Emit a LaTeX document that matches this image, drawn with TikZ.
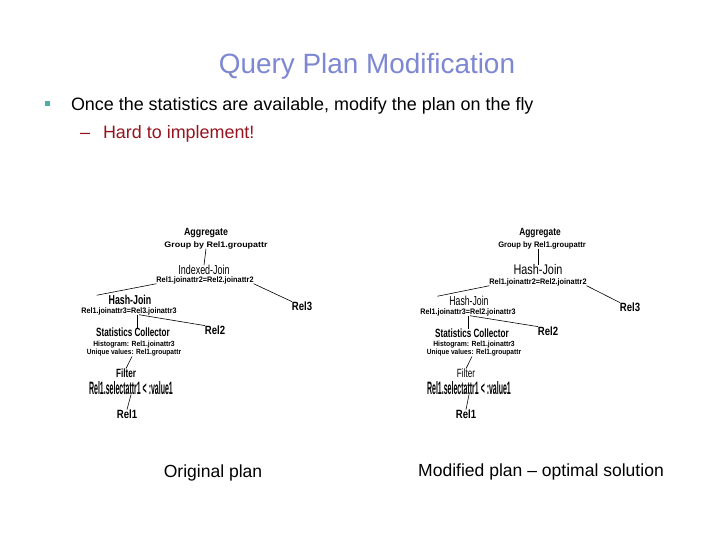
\documentclass[tikz,border=0pt]{standalone}
\usepackage{fontspec}
\setmainfont{Liberation Sans}
\definecolor{titlecol}{RGB}{125,135,210}
\definecolor{bulletcol}{RGB}{80,175,165}
\definecolor{redcol}{RGB}{150,20,30}
\newcommand\sq[2]{\scalebox{#1}[1]{#2}}
\begin{document}
\begin{tikzpicture}[x=1bp,y=-1bp,
  lbl/.style={inner sep=0pt, outer sep=0pt, text=black},
  opb/.style={lbl, font=\fontsize{10.5}{10.5}\selectfont\bfseries},
  sub/.style={lbl, font=\fontsize{8}{8}\selectfont\bfseries},
  stat/.style={lbl, align=center, font=\fontsize{7.5}{7}\selectfont\bfseries},
  rel/.style={lbl, font=\fontsize{12}{12}\selectfont\bfseries},
  mid/.style={lbl, font=\fontsize{12}{12}\selectfont\bfseries},
  cond/.style={lbl, font=\fontsize{18}{18}\selectfont\bfseries},
  edge/.style={draw=black, line width=0.6bp}]
\useasboundingbox (0,0) rectangle (720,540);
\fill[white] (0,0) rectangle (720,540);
% header
\node[lbl, anchor=base, text=titlecol, font=\fontsize{28}{28}\selectfont] (title) at (367,74) {Query Plan Modification};
\node[fill=bulletcol, minimum size=5bp, inner sep=0pt] (bul) at (47,104) {};
\node[lbl, anchor=base west, font=\fontsize{18}{18}\selectfont] (line1) at (71,111) {Once the statistics are available, modify the plan on the fly};
\node[lbl, anchor=base west, text=redcol, font=\fontsize{18}{18}\selectfont] (dash) at (80,139) {--};
\node[lbl, anchor=base west, text=redcol, font=\fontsize{18}{18}\selectfont] (line2) at (103,139) {Hard to implement!};
% ---------- left tree ----------
\node[opb] (la) at (206,233) {\sq{0.85}{Aggregate}};
\node[sub] (las) at (216,245) {\sq{1.12}{Group by Rel1.groupattr}};
\node[lbl, font=\fontsize{13}{13}\selectfont] (lij) at (204,270) {\sq{0.69}{Indexed-Join}};
\node[sub] (lijc) at (205,280) {\sq{0.92}{Rel1.joinattr2=Rel2.joinattr2}};
\node[lbl, font=\fontsize{13}{13}\selectfont\bfseries] (lhj) at (130,300) {\sq{0.68}{Hash-Join}};
\node[sub] (lhjc) at (129,311) {\sq{0.9}{Rel1.joinattr3=Rel3.joinattr3}};
\node[rel] (lr3) at (302,306) {\sq{0.8}{Rel3}};
\node[mid] (lsc) at (133,332) {\sq{0.68}{Statistics Collector}};
\node[stat] (lst) at (134,349) {\sq{0.91}{Histogram: Rel1.joinattr3}\\\sq{0.88}{Unique values: Rel1.groupattr}};
\node[rel] (lr2) at (215,330) {\sq{0.8}{Rel2}};
\node[mid] (lf) at (126,373) {\sq{0.68}{Filter}};
\node[cond] (lfc) at (131,388) {\sq{0.39}{Rel1.selectattr1 < :value1}};
\node[rel] (lr1) at (127,414) {\sq{0.8}{Rel1}};
\draw[edge] (las.south -| la.south) -- (lij.north);
\draw[edge] (lijc.south west) -- ([xshift=-12bp]lhj.north west);
\draw[edge] (lijc.south east) -- (lr3.north west);
\draw[edge] ([xshift=8bp]lhjc.south) -- ([xshift=8bp]lhjc.south |- lsc.north);
\draw[edge] ([xshift=10bp]lhjc.south) -- (lr2.north west);
\draw[edge] ([xshift=-2bp]lst.south) -- (lf.north);
\draw[edge] (lfc.south) -- (lr1.north);
% ---------- right tree ----------
\node[opb] (ra) at (540,233) {\sq{0.8}{Aggregate}};
\node[sub] (ras) at (542,245) {\sq{0.95}{Group by Rel1.groupattr}};
\node[lbl, font=\fontsize{14}{14}\selectfont] (rhj) at (538,270) {\sq{0.78}{Hash-Join}};
\node[sub] (rhjc) at (538,282) {\sq{0.92}{Rel1.joinattr2=Rel2.joinattr2}};
\node[lbl, font=\fontsize{13}{13}\selectfont] (rhj2) at (469,301) {\sq{0.67}{Hash-Join}};
\node[sub] (rhj2c) at (468,312) {\sq{0.9}{Rel1.joinattr3=Rel2.joinattr3}};
\node[rel] (rr3) at (630,307) {\sq{0.8}{Rel3}};
\node[mid] (rsc) at (472,333) {\sq{0.68}{Statistics Collector}};
\node[stat] (rst) at (474,349) {\sq{0.91}{Histogram: Rel1.joinattr3}\\\sq{0.88}{Unique values: Rel1.groupattr}};
\node[rel] (rr2) at (548,331) {\sq{0.8}{Rel2}};
\node[lbl, font=\fontsize{12}{12}\selectfont] (rf) at (466,373) {\sq{0.68}{Filter}};
\node[cond] (rfc) at (469,388) {\sq{0.39}{Rel1.selectattr1 < :value1}};
\node[rel] (rr1) at (466,414) {\sq{0.8}{Rel1}};
\draw[edge] (ras.south -| rhj.north) -- (rhj.north);
\draw[edge] (rhjc.south west) -- ([xshift=-12bp]rhj2.north west);
\draw[edge] (rhjc.south east) -- (rr3.north west);
\draw[edge] (rhj2c.south) -- (rhj2c.south |- rsc.north);
\draw[edge] ([xshift=2bp]rhj2c.south) -- (rr2.north west);
\draw[edge] ([xshift=-2bp]rst.south) -- (rf.north);
\draw[edge] (rfc.south) -- (rr1.north);
% captions
\node[lbl, anchor=base, font=\fontsize{17.6}{17.6}\selectfont] (cap1) at (213,477) {Original plan};
\node[lbl, anchor=base, font=\fontsize{17.6}{17.6}\selectfont] (cap2) at (541,476) {Modified plan -- optimal solution};
\end{tikzpicture}
\end{document}
